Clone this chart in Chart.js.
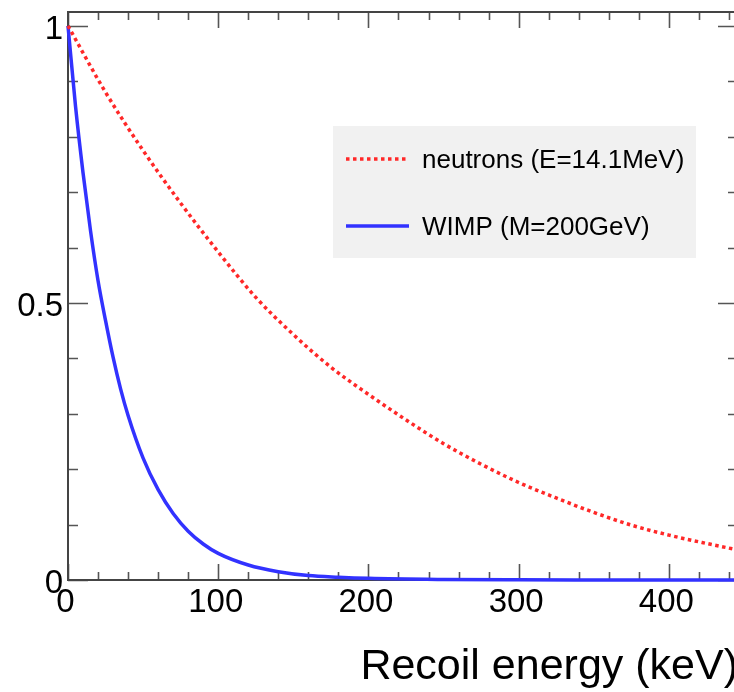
<!DOCTYPE html>
<html>
<head>
<meta charset="utf-8">
<script src="https://cdn.jsdelivr.net/npm/chart.js@4.4.0/dist/chart.umd.min.js"></script>
<style>
  html, body { margin: 0; padding: 0; overflow: hidden; background: #fff; }
  #wrap { position: relative; width: 740px; height: 692px; }
</style>
</head>
<body>
<div id="wrap"><canvas id="recoil"></canvas></div>
<script>
// recoil spectra (normalised to 1 at E=0)
const neutronEnergy = [0, 25, 50, 75, 100, 125, 150, 175, 200, 225, 250, 275, 300, 325, 350, 375, 400, 425, 450];
const neutronFrac   = [1.0, 0.88, 0.775, 0.68, 0.592, 0.51, 0.443, 0.384, 0.335, 0.289, 0.246, 0.209, 0.176, 0.148, 0.122, 0.099, 0.081, 0.066, 0.052];

const wimpEnergy = [0, 5, 10, 15, 20, 25, 30, 35, 40, 50, 60, 70, 80, 90, 100, 120, 140, 160, 180, 200, 250, 300, 350, 400, 450];
const wimpFrac   = [1.0, 0.855, 0.735, 0.63, 0.54, 0.468, 0.402, 0.345, 0.297, 0.22, 0.163, 0.12, 0.088, 0.065, 0.048, 0.027, 0.015, 0.008, 0.005, 0.003, 0.001, 0.0003, 0.0001, 0, 0];

const seriesLabels = ['neutrons (E=14.1MeV)', 'WIMP (M=200GeV)'];
const xTitle = 'Recoil energy (keV)';

const xMax = 446;
const yMax = 1.025;

function toPoints(xs, ys) {
    return xs.map((x, i) => ({ x: x, y: ys[i] }));
}

// ROOT-like frame with inward ticks on all four sides
const framePlugin = {
    id: 'frame',
    beforeDatasetsDraw(chart) {
        const { ctx, chartArea: a, scales } = chart;
        const xs = scales.x, ys = scales.y;
        ctx.save();
        ctx.strokeStyle = '#555';
        ctx.lineWidth = 1.6;
        ctx.beginPath();
        for (let v = 0; v <= xMax; v += 20) {
            const px = Math.round(xs.getPixelForValue(v)) + 0.5;
            const len = (v % 100 === 0) ? 16 : 8;
            ctx.moveTo(px, a.bottom); ctx.lineTo(px, a.bottom - len);
            ctx.moveTo(px, a.top); ctx.lineTo(px, a.top + len);
        }
        for (let i = 0; i <= 10; i++) {
            const v = i / 10;
            const py = Math.round(ys.getPixelForValue(v)) + 0.5;
            const len = (i % 5 === 0) ? 20 : 10;
            ctx.moveTo(a.left, py); ctx.lineTo(a.left + len, py);
            ctx.moveTo(a.right, py); ctx.lineTo(a.right - len, py);
        }
        ctx.stroke();
        ctx.strokeStyle = '#444';
        ctx.lineWidth = 2;
        ctx.strokeRect(a.left, a.top, a.right - a.left, a.bottom - a.top);
        ctx.restore();
    },
    afterDatasetsDraw(chart) {
        // legend box
        const { ctx } = chart;
        const ds = chart.data.datasets;
        ctx.save();
        ctx.fillStyle = '#f1f1f1';
        ctx.fillRect(333, 126, 363, 132);
        const rows = [159, 226];
        ds.forEach((d, i) => {
            ctx.strokeStyle = d.borderColor;
            ctx.lineWidth = d.borderWidth;
            ctx.setLineDash(d.borderDash || []);
            ctx.beginPath();
            ctx.moveTo(346, rows[i]);
            ctx.lineTo(409, rows[i]);
            ctx.stroke();
            ctx.setLineDash([]);
            ctx.fillStyle = '#000';
            ctx.font = '26px "Liberation Sans", Arial, sans-serif';
            ctx.textBaseline = 'alphabetic';
            ctx.fillText(d.label, 422, rows[i] + 9);
        });
        ctx.restore();
    }
};

document.addEventListener('DOMContentLoaded', function () {
    const ctx = document.getElementById('recoil').getContext('2d');
    const tickFont = { family: '"Liberation Sans", Arial, sans-serif', size: 33 };

    new Chart(ctx, {
        type: 'line',
        data: {
            datasets: [{
                label: seriesLabels[0],
                data: toPoints(neutronEnergy, neutronFrac),
                borderColor: 'rgb(255, 40, 40)',
                borderWidth: 3.5,
                borderDash: [3.5, 3.5],
                pointRadius: 0,
                cubicInterpolationMode: 'monotone',
                fill: false,
                clip: { left: 2, top: 2, right: 0, bottom: 4 }
            }, {
                label: seriesLabels[1],
                data: toPoints(wimpEnergy, wimpFrac),
                borderColor: 'rgb(50, 50, 255)',
                borderWidth: 3.5,
                pointRadius: 0,
                cubicInterpolationMode: 'monotone',
                fill: false,
                clip: { left: 2, top: 2, right: 0, bottom: 4 }
            }]
        },
        options: {
            responsive: true,
            maintainAspectRatio: false,
            animation: false,
            layout: { padding: { top: 12, right: 2, left: 0, bottom: 0 } },
            plugins: {
                legend: { display: false },
                tooltip: { enabled: false }
            },
            scales: {
                x: {
                    type: 'linear',
                    min: 0,
                    max: xMax,
                    grid: { display: false, drawTicks: false },
                    border: { display: false },
                    ticks: {
                        stepSize: 100,
                        includeBounds: false,
                        autoSkip: false,
                        maxRotation: 0,
                        padding: 3,
                        labelOffset: -2.5,
                        color: '#000',
                        font: tickFont
                    },
                    title: {
                        display: true,
                        text: xTitle,
                        align: 'end',
                        color: '#000',
                        font: { family: '"Liberation Sans", Arial, sans-serif', size: 43 },
                        padding: { top: 0, bottom: -1 }
                    },
                    afterFit(scale) {
                        scale.height = 112;
                        scale.paddingLeft = 0;
                        scale.paddingRight = 0;
                    }
                },
                y: {
                    min: 0,
                    max: yMax,
                    grid: { display: false, drawTicks: false },
                    border: { display: false },
                    ticks: {
                        stepSize: 0.5,
                        includeBounds: false,
                        padding: 5,
                        labelOffset: 4,
                        color: '#000',
                        font: tickFont,
                        callback: function (value) { return String(value); }
                    },
                    afterFit(scale) {
                        scale.width = 68;
                        scale.paddingTop = 0;
                        scale.paddingBottom = 0;
                    }
                }
            }
        },
        plugins: [framePlugin]
    });
});
</script>
</body>
</html>
